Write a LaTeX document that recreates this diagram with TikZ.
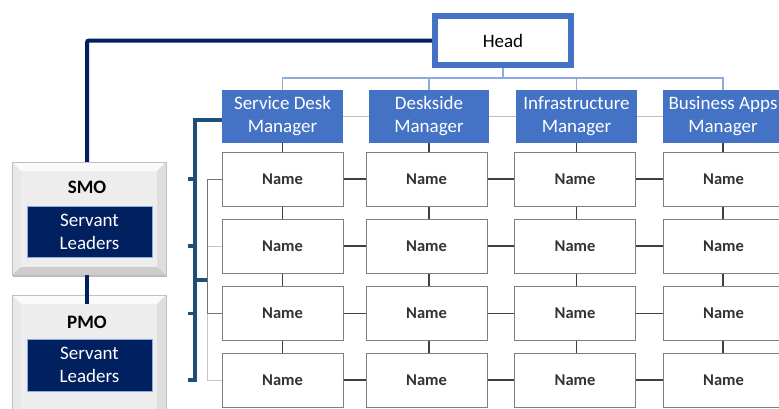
\documentclass[tikz,border=0pt]{standalone}
\usepackage{fontspec}
\setmainfont{Carlito}
\usetikzlibrary{calc}
\definecolor{mgrblue}{HTML}{4472C4}
\definecolor{navyc}{HTML}{002060}
\definecolor{lightblue}{HTML}{8FAADC}
\definecolor{brkc}{HTML}{1F4E79}
\definecolor{namegray}{HTML}{7F7F7F}
\definecolor{conngray}{HTML}{404040}
\definecolor{facec}{HTML}{EDEDED}
\tikzset{
  mgr/.style={rectangle, fill=mgrblue, text=white, align=center, inner sep=0pt,
    minimum height=53pt, font=\fontsize{19}{23}\selectfont},
  namebox/.style={rectangle, draw=namegray, line width=1pt, fill=white, inner sep=0pt,
    minimum width=121pt, minimum height=54pt, text=black!80,
    font=\fontsize{16.5}{20}\selectfont\bfseries},
  headbox/.style={rectangle, draw=mgrblue, line width=6pt, fill=white, inner sep=0pt,
    minimum width=136pt, minimum height=49pt, font=\fontsize{19}{23}\selectfont},
  hl/.style={draw=lightblue, line width=1.2pt},
  mline/.style={draw=black!25, line width=1pt},
  conn/.style={draw=conngray, line width=1.2pt},
  navyline/.style={draw=navyc, line width=4pt, rounded corners=2pt},
  brk/.style={draw=brkc, line width=3.5pt},
  gbr/.style={draw=black!55, line width=1pt},
  gbrl/.style={draw=black!22, line width=1pt},
  bevel/.style={rectangle, fill=facec, inner sep=0pt, minimum width=154pt},
  bvtop/.style={fill=black!2},
  bvleft/.style={fill=black!9},
  bvright/.style={fill=black!13},
  bvbot/.style={fill=black!20},
  bvline/.style={draw=black!25, line width=0.6pt},
  bevlabel/.style={inner sep=0pt, font=\fontsize{19}{23}\selectfont\bfseries, text=black},
  servant/.style={rectangle, fill=navyc, draw=lightblue, line width=0.8pt, text=white,
    align=center, inner sep=0pt, minimum width=125pt, font=\fontsize{19}{23}\selectfont},
}
\newcommand\bevelfaces[1]{%
  \fill[black!28] ($(#1.north west)+(1,2)$) rectangle ($(#1.south east)+(1,2)$);
  \fill[facec] (#1.north west) rectangle (#1.south east);
  \fill[bvtop] (#1.north west) -- (#1.north east) -- ($(#1.north east)+(-9,9)$) -- ($(#1.north west)+(9,9)$) -- cycle;
  \fill[bvleft] (#1.north west) -- ($(#1.north west)+(9,9)$) -- ($(#1.south west)+(9,-8)$) -- (#1.south west) -- cycle;
  \fill[bvright] (#1.north east) -- ($(#1.north east)+(-9,9)$) -- ($(#1.south east)+(-9,-8)$) -- (#1.south east) -- cycle;
  \fill[bvbot] (#1.south west) -- ($(#1.south west)+(9,-8)$) -- ($(#1.south east)+(-9,-8)$) -- (#1.south east) -- cycle;
  \draw[bvline] (#1.north west) rectangle (#1.south east);}
\begin{document}
\begin{tikzpicture}[x=1pt,y=-1pt]
\useasboundingbox (0,0) rectangle (779,408);
\clip (0,0) rectangle (779,408);
\fill[white] (0,0) rectangle (779,408);

% head
\node[headbox] (head) at (503,40.5) {Head};

% managers
\node[mgr, minimum width=121pt] (m1) at (282.5,116.5) {Service Desk\\Manager};
\node[mgr, minimum width=120pt] (m2) at (429,116.5) {Deskside\\Manager};
\node[mgr, minimum width=121pt] (m3) at (576.5,116.5) {Infrastructure\\Manager};
\node[mgr, minimum width=120pt] (m4) at (723,116.5) {Business Apps\\Manager};

% head to managers
\coordinate (hb) at (503,78);
\draw[hl] (head.south) -- (hb);
\draw[hl] (m1.north) -- (m1.north |- hb) -- (m4.north |- hb) -- (m4.north);
\draw[hl] (m2.north) -- (m2.north |- hb);
\draw[hl] (m3.north) -- (m3.north |- hb);
\draw[mline] (m1.east) -- (m2.west);
\draw[mline] (m2.east) -- (m3.west);
\draw[mline] (m3.east) -- (m4.west);

% name grid
\foreach \c/\x in {1/282.5,2/426.5,3/575,4/723.5}
  \foreach \r/\y in {1/179,2/246,3/313.5,4/380}
    \node[namebox] (n\r\c) at (\x,\y) {Name};

\foreach \c in {1,2,3,4} {
  \draw[conn] (m\c.south) -- (m\c.south |- n1\c.north);
  \foreach \r/\s in {1/2,2/3,3/4}
    \draw[conn] (m\c.south |- n\r\c.south) -- (m\c.south |- n\s\c.north);
}
\foreach \r in {1,2,3,4}
  \foreach \c/\d in {1/2,2/3,3/4}
    \draw[conn] (n\r\c.east) -- (n\r\d.west);

% gray bracket
\coordinate (gx) at (207,0);
\draw[gbrl] (n31.west -| gx) -- (n41.west -| gx) -- (n41.west);
\draw[gbrl] (n21.west) -- (n21.west -| gx);
\draw[gbr] (n11.west) -- (n11.west -| gx) -- (n31.west -| gx) -- (n31.west);

% thick blue bracket
\coordinate (bt) at (195,120);
\coordinate (bb) at (195,380);
\coordinate (gm) at (207,280);
\draw[brk] (bt -| m1.west) -- (bt) -- (bb) -- ++(-7,0);
\draw[brk] (bt |- n11) -- ++(-7,0);
\draw[brk] (bt |- n21) -- ++(-7,0);
\draw[brk] (bt |- n31) -- ++(-7,0);
\draw[brk] (bt |- gm) -- (gm);

% SMO / PMO
\node[bevel, minimum height=113pt] (smo) at (89,218.5) {};
\bevelfaces{smo}
\node[bevel, minimum height=125pt] (pmo) at (89,357.5) {};
\bevelfaces{pmo}
\node[bevlabel] (smol) at (87,187) {SMO};
\node[servant, minimum height=51pt] (sl1) at (89.5,231.5) {Servant\\Leaders};
\node[bevlabel] (pmol) at (87,322) {PMO};
\node[servant, minimum height=52pt] (sl2) at (89.5,365) {Servant\\Leaders};

\coordinate (nx) at (87,0);
\draw[navyline] (head.west) -- (head.west -| nx) -- (smo.north -| nx);
\draw[navyline] (smo.south -| nx) -- ($(pmo.north -| nx)+(0,9)$);
\end{tikzpicture}
\end{document}
